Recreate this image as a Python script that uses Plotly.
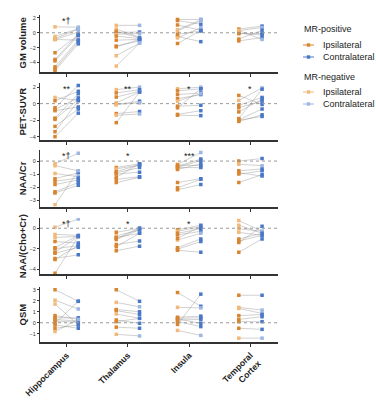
import plotly.graph_objects as go
from plotly.subplots import make_subplots

REGIONS = ["Hippocampus", "Thalamus", "Insula", "Temporal<br>Cortex"]
METRICS = ["GM volume", "PET-SUVR", "NAA/Cr", "NAA/(Cho+Cr)", "QSM"]

# Each metric: per region lists of paired values (ipsilateral, contralateral) and group (1 = MR-positive, 0 = MR-negative)
GM_IPSI = [[0.8, -0.8, -0.9, -0.9, -2.7, -3.6, -3.8, -4.6, -4.9, -5.1, -0.5],
           [1.0, 0.5, 0.05, -0.2, -0.45, -1.0, -1.8, -1.9, -3.1, -4.5, 0.2],
           [1.8, 1.65, 1.05, 0.25, -0.2, -0.5, -0.7, -1.45, 0.4],
           [0.5, 0.3, -0.1, -0.85, -1.1, 0.3, -0.1]]
GM_CONTRA = [[0.75, 0.5, -1.0, 0.1, -0.3, -0.2, -0.4, -1.0, -1.2, -1.5, 0.55],
             [1.0, -0.6, 0.1, -0.1, -0.8, -0.9, -1.1, -0.9, -1.4, -1.4, -0.7],
             [1.8, 1.15, 0.35, 1.6, 0.25, -1.2, 0.7, 0.3, 1.75],
             [0.9, 0.7, -0.3, 0.35, -0.65, -0.9, -0.1]]
GM_GROUP = [[0, 1, 1, 0, 1, 1, 1, 1, 1, 1, 0],
            [0, 0, 1, 0, 1, 1, 1, 1, 0, 0, 1],
            [1, 1, 1, 0, 1, 1, 0, 1, 0],
            [1, 0, 1, 1, 1, 0, 1]]

PET_IPSI = [[0.75, 0.35, -0.5, -0.7, -0.85, -1.75, -1.9, -2.75, -3.4, -4.0],
            [1.7, 1.3, 0.8, 0.1, -0.1, -0.1, -1.2, -1.4, -2.3],
            [1.8, 1.55, 1.1, 0.6, -0.3, -0.5, -1.3, -1.4, 0.3],
            [1.0, 0.4, -0.2, -0.5, -1.0, -1.8, -1.95, -2.15, -2.0]]
PET_CONTRA = [[0.4, 1.5, 2.2, 0.7, -0.4, 1.2, 0.5, -0.65, 0.35, -1.15],
              [2.0, 1.7, 1.5, 1.4, 0.3, 0.1, -0.95, -1.25, 1.4],
              [2.0, 1.8, 1.3, 1.1, -0.2, 1.8, -0.85, -1.45, 1.2],
              [-0.1, 1.9, 0.75, 0.3, 0.55, 1.75, -0.65, -1.35, -1.55]]
PET_GROUP = [[0, 1, 1, 1, 1, 1, 1, 1, 1, 1],
             [0, 1, 1, 0, 1, 0, 1, 0, 1],
             [0, 1, 1, 1, 1, 1, 1, 1, 0],
             [1, 0, 1, 1, 1, 1, 1, 1, 1]]

NAACR_IPSI = [[-0.2, -0.35, -0.95, -1.35, -1.55, -1.8, -2.35, -2.45, -3.35],
              [-0.5, -0.6, -0.9, -1.0, -1.25, -1.4, -1.65, -0.8],
              [-0.25, -0.4, -0.5, -0.65, -0.3, -1.65, -2.05, -2.2, -0.5],
              [0.0, -0.25, -0.75, -1.0, -1.65, -0.9]]
NAACR_CONTRA = [[0.6, -0.75, -1.2, -0.9, -1.3, -1.45, -1.65, -1.85, -0.75],
                [-0.2, -0.3, -0.5, -0.85, -0.2, -1.2, -1.25, -0.3],
                [0.65, 0.15, 0.05, -0.2, -0.35, -1.35, -1.4, -1.8, -0.5],
                [0.2, -0.35, -0.6, -0.75, -1.05, -1.15]]
NAACR_GROUP = [[0, 0, 0, 1, 1, 1, 1, 1, 0],
               [1, 0, 1, 1, 1, 1, 1, 1],
               [0, 1, 1, 1, 1, 1, 1, 1, 1],
               [1, 0, 1, 1, 1, 1]]

NAACHO_IPSI = [[0.1, -0.6, -0.9, -1.3, -1.9, -2.0, -2.35, -2.45, -2.95, -3.05, -4.4],
               [-0.4, -0.75, -0.9, -1.1, -1.6, -1.8, -2.2, -1.0],
               [-0.15, -0.3, -0.5, -0.65, -1.15, -1.9, -2.05, -2.15, -1.0],
               [0.75, 0.3, -0.05, -0.4, -1.05, -1.25, -1.4, -2.35]]
NAACHO_CONTRA = [[0.9, -0.7, -0.8, -1.45, -0.7, -1.7, -0.8, -1.85, -2.6, -1.7, -0.8],
                 [0.0, -0.15, -0.5, -0.15, -1.25, -0.5, -1.75, 0.0],
                 [0.3, 0.15, -0.05, -0.3, -0.5, -1.05, -1.3, -2.35, 0.2],
                 [-0.3, -0.5, -0.3, -0.7, -0.5, -0.7, 0.2, -1.05]]
NAACHO_GROUP = [[0, 0, 0, 1, 1, 1, 1, 1, 1, 1, 1],
                [1, 0, 1, 1, 1, 1, 1, 1],
                [1, 0, 1, 1, 0, 1, 1, 1, 1],
                [0, 0, 0, 0, 1, 1, 1, 1]]

QSM_IPSI = [[3.0, 2.05, 1.7, 0.65, 0.45, 0.3, 0.15, -0.05, -0.2, -0.5, -0.8],
            [3.0, 1.85, 1.2, 1.1, 0.8, 0.25, 0.1, -0.4, -1.05],
            [2.75, 1.4, 0.5, 0.4, 0.25, -0.15, -0.7, 0.1, 0.35],
            [2.5, 1.4, 1.3, 0.65, 0.3, 0.1, -0.5, -1.4]]
QSM_CONTRA = [[1.95, 1.25, -0.2, 0.3, 0.45, 0.15, 0.05, 1.95, -0.5, -0.2, 0.3],
              [1.95, 1.45, 1.0, 0.75, 0.4, -0.05, 0.4, -0.5, -1.2],
              [1.5, 1.35, 0.6, 0.45, 0.3, 2.6, -1.15, -0.35, -0.05],
              [2.5, 1.15, 0.85, 0.75, 0.55, 0.1, -0.6, -1.4]]
QSM_GROUP = [[1, 0, 0, 1, 1, 1, 1, 1, 1, 1, 0],
             [1, 0, 1, 1, 0, 1, 1, 1, 0],
             [1, 0, 1, 1, 1, 1, 0, 1, 1],
             [1, 0, 0, 1, 1, 1, 1, 0]]

STARS = [["*\u2020", "", "", ""],
         ["**", "**", "*", "*"],
         ["*\u2020", "*", "***", ""],
         ["*\u2020", "*", "*", ""],
         ["", "", "", ""]]

Y_RANGES = [[-5.3, 2.4], [-4.4, 2.5], [-3.5, 0.85], [-4.5, 1.0], [-1.75, 3.25]]
Y_TICKS = [[-4, -2, 0, 2], [-4, -2, 0, 2], [-3, -2, -1, 0], [-4, -2, 0], [-1, 0, 1, 2, 3]]

DATA = [(GM_IPSI, GM_CONTRA, GM_GROUP), (PET_IPSI, PET_CONTRA, PET_GROUP),
        (NAACR_IPSI, NAACR_CONTRA, NAACR_GROUP), (NAACHO_IPSI, NAACHO_CONTRA, NAACHO_GROUP),
        (QSM_IPSI, QSM_CONTRA, QSM_GROUP)]

POS_IPSI = "#D98530"
POS_CONTRA = "#4A78C8"
NEG_IPSI = "#F2B97A"
NEG_CONTRA = "#9DB6E2"
FONT = "Arial, Liberation Sans, sans-serif"
OFF = 0.19

# figure geometry (pixels) used to place the legend in paper coordinates
W, H = 376, 400
ML, MR, MT, MB = 40, 98, 15, 58
PW, PH = W - ML - MR, H - MT - MB


def px(xp):
    return (xp - ML) / PW


def py(yp):
    return (H - MB - yp) / PH


DOMAINS = [[py(72), 1.0], [py(140), py(83)], [py(206.7), py(150)], [py(274.3), py(218)], [0.0, py(287)]]

fig = make_subplots(rows=5, cols=1, shared_xaxes=False, vertical_spacing=0.03)

for r, (ipsi, contra, group) in enumerate(DATA):
    row = r + 1
    xa = "x" if row == 1 else f"x{row}"
    ya = "y" if row == 1 else f"y{row}"
    for c in range(4):
        lx, ly = [], []
        for a, b in zip(ipsi[c], contra[c]):
            lx += [c - OFF, c + OFF, None]
            ly += [a, b, None]
        fig.add_trace(go.Scatter(x=lx, y=ly, mode="lines",
                                 line=dict(color="rgba(140,140,140,0.5)", width=0.8),
                                 showlegend=False, hoverinfo="skip"), row=row, col=1)
        xs = [c - OFF] * len(ipsi[c]) + [c + OFF] * len(contra[c])
        ys = list(ipsi[c]) + list(contra[c])
        cols = [POS_IPSI if g else NEG_IPSI for g in group[c]] + \
               [POS_CONTRA if g else NEG_CONTRA for g in group[c]]
        fig.add_trace(go.Scatter(x=xs, y=ys, mode="markers",
                                 marker=dict(symbol="square", size=3.5, color=cols, line=dict(width=0)),
                                 showlegend=False), row=row, col=1)
        if STARS[r][c]:
            fig.add_annotation(x=c, y=1.02, xref=xa, yref=f"{ya} domain",
                               text=STARS[r][c], showarrow=False, yanchor="top",
                               font=dict(size=9, color="#222", family=FONT))
    fig.add_shape(type="line", xref=f"{xa} domain", yref=ya, x0=0, x1=1, y0=0, y1=0,
                  line=dict(color="#999", width=1, dash="dot"))
    # y-axis title as rotated text
    fig.add_annotation(x=px(22), y=(DOMAINS[r][0] + DOMAINS[r][1]) / 2, xref="paper", yref="paper",
                       text=f"<b>{METRICS[r]}</b>", textangle=-90, showarrow=False,
                       xanchor="center", yanchor="middle",
                       font=dict(size=9.5, color="#222", family=FONT))
    fig.update_yaxes(row=row, col=1, range=Y_RANGES[r], tickvals=Y_TICKS[r],
                     domain=DOMAINS[r], showline=True, linecolor="#333", linewidth=1.3,
                     ticks="outside", ticklen=2, tickwidth=1, tickcolor="#333",
                     showgrid=False, zeroline=False, automargin=False,
                     tickfont=dict(size=5.5, color="#333", family=FONT))
    fig.update_xaxes(row=row, col=1, range=[-0.435, 3.45], tickvals=[0, 1, 2, 3],
                     ticktext=[f"<b>{t}</b>" for t in REGIONS] if row == 5 else ["", "", "", ""],
                     showticklabels=(row == 5), tickangle=-45, automargin=False,
                     showline=True, linecolor="#333", linewidth=1.8,
                     ticks="outside", ticklen=3, tickwidth=1, tickcolor="#333",
                     showgrid=False, zeroline=False,
                     tickfont=dict(size=8.7, color="#222", family=FONT))

# legend drawn in paper coordinates
LEGEND = [("MR-positive", None, 29), ("Ipsilateral", POS_IPSI, 45), ("Contralateral", POS_CONTRA, 57),
          ("MR-negative", None, 77), ("Ipsilateral", NEG_IPSI, 92), ("Contralateral", NEG_CONTRA, 104)]
for label, color, yy in LEGEND:
    if color is None:
        fig.add_annotation(x=px(302), y=py(yy), xref="paper", yref="paper", text=label,
                           showarrow=False, xanchor="left", yanchor="middle",
                           font=dict(size=9, color="#222", family=FONT))
    else:
        fig.add_shape(type="line", xref="paper", yref="paper", x0=px(303), x1=px(314),
                      y0=py(yy), y1=py(yy), line=dict(color=color, width=1))
        fig.add_shape(type="rect", xref="paper", yref="paper", x0=px(306.8), x1=px(310.2),
                      y0=py(yy + 1.7), y1=py(yy - 1.7), line=dict(width=0), fillcolor=color)
        fig.add_annotation(x=px(321), y=py(yy), xref="paper", yref="paper", text=label,
                           showarrow=False, xanchor="left", yanchor="middle",
                           font=dict(size=9, color="#222", family=FONT))

fig.update_layout(
    width=W, height=H,
    margin=dict(l=ML, r=MR, t=MT, b=MB, autoexpand=False),
    paper_bgcolor="white", plot_bgcolor="white",
    font=dict(family=FONT, color="#222"),
    showlegend=False,
)

fig.write_html("out.html", config={"displayModeBar": False},
               post_script="document.body.style.margin='0';document.body.style.overflow='hidden';"
                           "document.documentElement.style.overflow='hidden';")
